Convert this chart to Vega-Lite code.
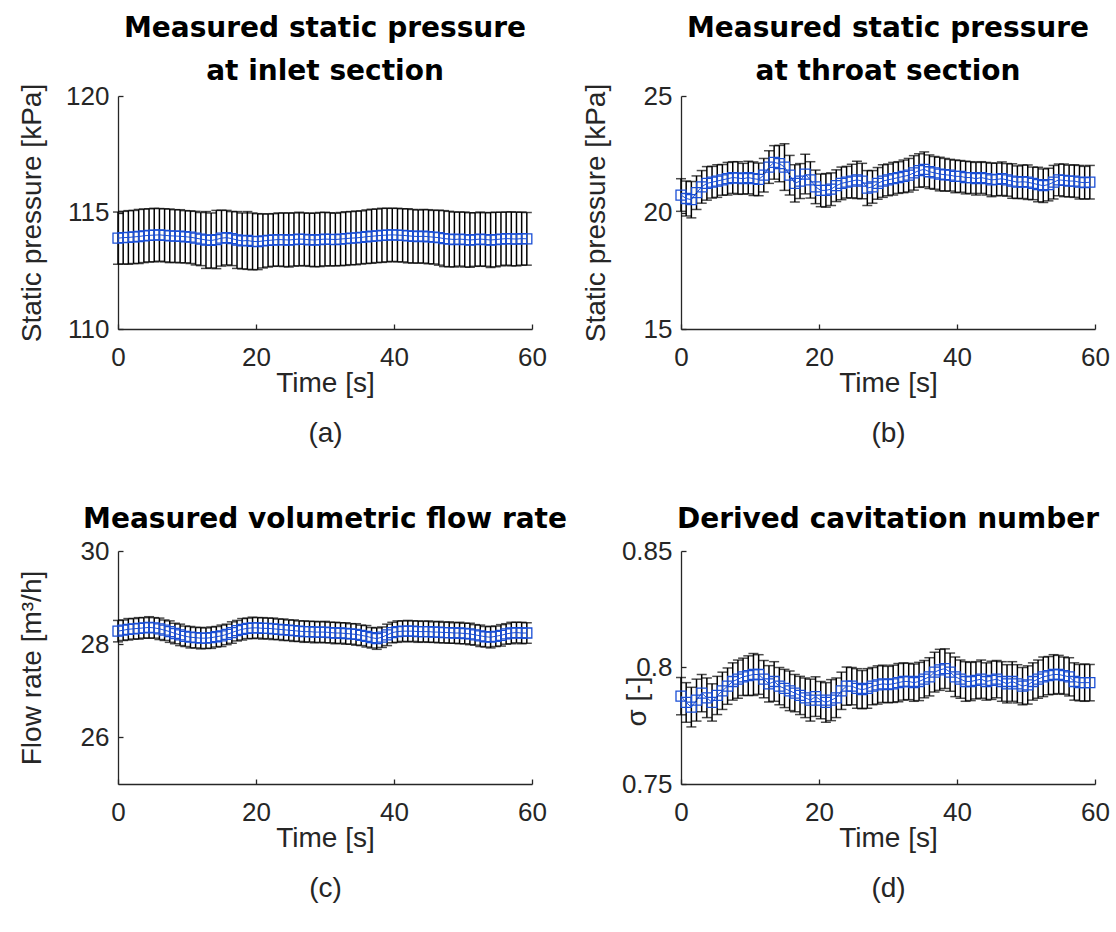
{
"$schema": "https://vega.github.io/schema/vega-lite/v6.json",
"padding": {"left": 18, "top": 15, "right": 5, "bottom": 5},
"config": {
  "font": "Liberation Sans",
  "view": {"stroke": null},
  "axis": {"grid": false, "domainColor": "#262626", "domainWidth": 1.3, "tickColor": "#262626", "tickWidth": 1.3, "tickSize": -5, "labelColor": "#262626", "labelFontSize": 26, "labelFont": "Liberation Sans", "titleFont": "Liberation Sans", "titleFontSize": 28, "titleFontWeight": "normal", "titleColor": "#262626", "labelFlush": false, "labelOverlap": false},
  "axisX": {"labelPadding": 20, "titlePadding": -1, "titleLineHeight": 50},
  "axisY": {"labelPadding": 14, "titlePadding": 19},
  "title": {"font": "DejaVu Sans", "fontSize": 28, "fontWeight": "bold", "color": "#000000", "lineHeight": 43, "offset": -3, "frame": "group", "anchor": "middle"}
},
"columns": 2,
"bounds": "flush",
"spacing": {"row": 222, "column": 149},
"datasets": {
"a": [
{"t":0,"v":113.90,"e":1.12},{"t":0.75,"v":113.92,"e":1.13},{"t":1.5,"v":113.93,"e":1.15},{"t":2.25,"v":113.95,"e":1.14},{"t":3,"v":113.97,"e":1.16},{"t":3.75,"v":114.00,"e":1.15},{"t":4.5,"v":114.02,"e":1.14},{"t":5.25,"v":114.03,"e":1.15},{"t":6,"v":114.04,"e":1.13},{"t":6.75,"v":114.02,"e":1.14},
{"t":7.5,"v":114.00,"e":1.15},{"t":8.25,"v":113.99,"e":1.13},{"t":9,"v":113.98,"e":1.14},{"t":9.75,"v":113.96,"e":1.12},{"t":10.5,"v":113.94,"e":1.13},{"t":11.25,"v":113.90,"e":1.15},{"t":12,"v":113.86,"e":1.14},{"t":12.75,"v":113.82,"e":1.22},{"t":13.5,"v":113.80,"e":1.18},{"t":14.25,"v":113.84,"e":1.25},
{"t":15,"v":113.90,"e":1.20},{"t":15.75,"v":113.92,"e":1.17},{"t":16.5,"v":113.88,"e":1.16},{"t":17.25,"v":113.82,"e":1.22},{"t":18,"v":113.78,"e":1.20},{"t":18.75,"v":113.80,"e":1.24},{"t":19.5,"v":113.76,"e":1.22},{"t":20.25,"v":113.75,"e":1.20},{"t":21,"v":113.78,"e":1.16},{"t":21.75,"v":113.80,"e":1.14},
{"t":22.5,"v":113.82,"e":1.13},{"t":23.25,"v":113.84,"e":1.14},{"t":24,"v":113.83,"e":1.15},{"t":24.75,"v":113.82,"e":1.16},{"t":25.5,"v":113.84,"e":1.14},{"t":26.25,"v":113.86,"e":1.15},{"t":27,"v":113.85,"e":1.13},{"t":27.75,"v":113.83,"e":1.14},{"t":28.5,"v":113.82,"e":1.15},{"t":29.25,"v":113.84,"e":1.16},
{"t":30,"v":113.86,"e":1.15},{"t":30.75,"v":113.85,"e":1.14},{"t":31.5,"v":113.84,"e":1.13},{"t":32.25,"v":113.86,"e":1.14},{"t":33,"v":113.88,"e":1.15},{"t":33.75,"v":113.90,"e":1.14},{"t":34.5,"v":113.91,"e":1.15},{"t":35.25,"v":113.93,"e":1.14},{"t":36,"v":113.96,"e":1.15},{"t":36.75,"v":113.98,"e":1.16},
{"t":37.5,"v":114.00,"e":1.15},{"t":38.25,"v":114.02,"e":1.16},{"t":39,"v":114.03,"e":1.15},{"t":39.75,"v":114.04,"e":1.14},{"t":40.5,"v":114.03,"e":1.15},{"t":41.25,"v":114.02,"e":1.14},{"t":42,"v":114.00,"e":1.16},{"t":42.75,"v":113.98,"e":1.15},{"t":43.5,"v":113.97,"e":1.14},{"t":44.25,"v":113.98,"e":1.15},
{"t":45,"v":113.96,"e":1.16},{"t":45.75,"v":113.94,"e":1.15},{"t":46.5,"v":113.92,"e":1.18},{"t":47.25,"v":113.88,"e":1.20},{"t":48,"v":113.86,"e":1.19},{"t":48.75,"v":113.84,"e":1.18},{"t":49.5,"v":113.86,"e":1.16},{"t":50.25,"v":113.84,"e":1.18},{"t":51,"v":113.82,"e":1.17},{"t":51.75,"v":113.84,"e":1.15},
{"t":52.5,"v":113.86,"e":1.16},{"t":53.25,"v":113.84,"e":1.15},{"t":54,"v":113.82,"e":1.18},{"t":54.75,"v":113.84,"e":1.17},{"t":55.5,"v":113.86,"e":1.15},{"t":56.25,"v":113.88,"e":1.14},{"t":57,"v":113.87,"e":1.16},{"t":57.75,"v":113.86,"e":1.15},{"t":58.5,"v":113.88,"e":1.14},{"t":59.25,"v":113.87,"e":1.13}
],
"b": [
{"t":0,"v":20.75,"e":0.70},{"t":0.75,"v":20.60,"e":0.75},{"t":1.5,"v":20.55,"e":0.78},{"t":2.25,"v":20.85,"e":0.72},{"t":3,"v":21.10,"e":0.70},{"t":3.75,"v":21.25,"e":0.72},{"t":4.5,"v":21.30,"e":0.68},{"t":5.25,"v":21.35,"e":0.70},{"t":6,"v":21.40,"e":0.66},{"t":6.75,"v":21.45,"e":0.70},
{"t":7.5,"v":21.50,"e":0.68},{"t":8.25,"v":21.48,"e":0.70},{"t":9,"v":21.45,"e":0.66},{"t":9.75,"v":21.50,"e":0.70},{"t":10.5,"v":21.45,"e":0.72},{"t":11.25,"v":21.42,"e":0.70},{"t":12,"v":21.60,"e":0.72},{"t":12.75,"v":21.95,"e":0.70},{"t":13.5,"v":22.15,"e":0.72},{"t":14.25,"v":22.10,"e":0.78},
{"t":15,"v":21.95,"e":1.00},{"t":15.75,"v":21.60,"e":0.85},{"t":16.5,"v":21.25,"e":0.80},{"t":17.25,"v":21.35,"e":0.75},{"t":18,"v":21.65,"e":0.85},{"t":18.75,"v":21.40,"e":0.78},{"t":19.5,"v":21.10,"e":0.72},{"t":20.25,"v":20.95,"e":0.70},{"t":21,"v":20.95,"e":0.72},{"t":21.75,"v":21.00,"e":0.70},
{"t":22.5,"v":21.15,"e":0.68},{"t":23.25,"v":21.25,"e":0.70},{"t":24,"v":21.30,"e":0.68},{"t":24.75,"v":21.35,"e":0.72},{"t":25.5,"v":21.40,"e":0.80},{"t":26.25,"v":21.35,"e":0.76},{"t":27,"v":21.05,"e":0.75},{"t":27.75,"v":21.10,"e":0.70},{"t":28.5,"v":21.25,"e":0.68},{"t":29.25,"v":21.35,"e":0.70},
{"t":30,"v":21.40,"e":0.68},{"t":30.75,"v":21.45,"e":0.70},{"t":31.5,"v":21.50,"e":0.68},{"t":32.25,"v":21.55,"e":0.70},{"t":33,"v":21.60,"e":0.72},{"t":33.75,"v":21.70,"e":0.74},{"t":34.5,"v":21.80,"e":0.72},{"t":35.25,"v":21.85,"e":0.75},{"t":36,"v":21.75,"e":0.72},{"t":36.75,"v":21.70,"e":0.70},
{"t":37.5,"v":21.65,"e":0.72},{"t":38.25,"v":21.62,"e":0.70},{"t":39,"v":21.60,"e":0.68},{"t":39.75,"v":21.55,"e":0.70},{"t":40.5,"v":21.55,"e":0.68},{"t":41.25,"v":21.50,"e":0.70},{"t":42,"v":21.50,"e":0.68},{"t":42.75,"v":21.45,"e":0.70},{"t":43.5,"v":21.50,"e":0.68},{"t":44.25,"v":21.45,"e":0.70},
{"t":45,"v":21.40,"e":0.72},{"t":45.75,"v":21.42,"e":0.70},{"t":46.5,"v":21.45,"e":0.72},{"t":47.25,"v":21.40,"e":0.70},{"t":48,"v":21.35,"e":0.74},{"t":48.75,"v":21.30,"e":0.70},{"t":49.5,"v":21.32,"e":0.72},{"t":50.25,"v":21.30,"e":0.74},{"t":51,"v":21.25,"e":0.70},{"t":51.75,"v":21.20,"e":0.74},
{"t":52.5,"v":21.15,"e":0.72},{"t":53.25,"v":21.20,"e":0.70},{"t":54,"v":21.30,"e":0.72},{"t":54.75,"v":21.40,"e":0.68},{"t":55.5,"v":21.38,"e":0.70},{"t":56.25,"v":21.35,"e":0.68},{"t":57,"v":21.35,"e":0.70},{"t":57.75,"v":21.30,"e":0.72},{"t":58.5,"v":21.28,"e":0.70},{"t":59.25,"v":21.30,"e":0.72}
],
"c": [
{"t":0,"v":28.28,"e":0.23},{"t":0.75,"v":28.30,"e":0.22},{"t":1.5,"v":28.32,"e":0.23},{"t":2.25,"v":28.33,"e":0.22},{"t":3,"v":28.34,"e":0.23},{"t":3.75,"v":28.35,"e":0.22},{"t":4.5,"v":28.36,"e":0.23},{"t":5.25,"v":28.35,"e":0.22},{"t":6,"v":28.33,"e":0.23},{"t":6.75,"v":28.30,"e":0.22},
{"t":7.5,"v":28.27,"e":0.23},{"t":8.25,"v":28.23,"e":0.22},{"t":9,"v":28.20,"e":0.23},{"t":9.75,"v":28.17,"e":0.22},{"t":10.5,"v":28.15,"e":0.23},{"t":11.25,"v":28.14,"e":0.22},{"t":12,"v":28.13,"e":0.23},{"t":12.75,"v":28.13,"e":0.22},{"t":13.5,"v":28.14,"e":0.23},{"t":14.25,"v":28.16,"e":0.22},
{"t":15,"v":28.18,"e":0.23},{"t":15.75,"v":28.21,"e":0.22},{"t":16.5,"v":28.25,"e":0.23},{"t":17.25,"v":28.29,"e":0.22},{"t":18,"v":28.32,"e":0.23},{"t":18.75,"v":28.34,"e":0.22},{"t":19.5,"v":28.35,"e":0.23},{"t":20.25,"v":28.35,"e":0.22},{"t":21,"v":28.34,"e":0.23},{"t":21.75,"v":28.34,"e":0.22},
{"t":22.5,"v":28.33,"e":0.23},{"t":23.25,"v":28.32,"e":0.22},{"t":24,"v":28.31,"e":0.23},{"t":24.75,"v":28.30,"e":0.22},{"t":25.5,"v":28.29,"e":0.23},{"t":26.25,"v":28.28,"e":0.22},{"t":27,"v":28.27,"e":0.23},{"t":27.75,"v":28.27,"e":0.22},{"t":28.5,"v":28.26,"e":0.23},{"t":29.25,"v":28.26,"e":0.22},
{"t":30,"v":28.26,"e":0.23},{"t":30.75,"v":28.25,"e":0.22},{"t":31.5,"v":28.24,"e":0.23},{"t":32.25,"v":28.24,"e":0.22},{"t":33,"v":28.23,"e":0.23},{"t":33.75,"v":28.22,"e":0.22},{"t":34.5,"v":28.21,"e":0.23},{"t":35.25,"v":28.19,"e":0.22},{"t":36,"v":28.17,"e":0.23},{"t":36.75,"v":28.14,"e":0.22},
{"t":37.5,"v":28.12,"e":0.23},{"t":38.25,"v":28.15,"e":0.22},{"t":39,"v":28.20,"e":0.23},{"t":39.75,"v":28.25,"e":0.22},{"t":40.5,"v":28.27,"e":0.23},{"t":41.25,"v":28.28,"e":0.22},{"t":42,"v":28.28,"e":0.23},{"t":42.75,"v":28.28,"e":0.22},{"t":43.5,"v":28.27,"e":0.23},{"t":44.25,"v":28.27,"e":0.22},
{"t":45,"v":28.27,"e":0.23},{"t":45.75,"v":28.26,"e":0.22},{"t":46.5,"v":28.26,"e":0.23},{"t":47.25,"v":28.25,"e":0.22},{"t":48,"v":28.25,"e":0.23},{"t":48.75,"v":28.24,"e":0.22},{"t":49.5,"v":28.24,"e":0.23},{"t":50.25,"v":28.23,"e":0.22},{"t":51,"v":28.22,"e":0.23},{"t":51.75,"v":28.20,"e":0.22},
{"t":52.5,"v":28.18,"e":0.23},{"t":53.25,"v":28.16,"e":0.22},{"t":54,"v":28.15,"e":0.23},{"t":54.75,"v":28.17,"e":0.22},{"t":55.5,"v":28.19,"e":0.23},{"t":56.25,"v":28.22,"e":0.22},{"t":57,"v":28.24,"e":0.23},{"t":57.75,"v":28.25,"e":0.22},{"t":58.5,"v":28.24,"e":0.23},{"t":59.25,"v":28.24,"e":0.22}
],
"d": [
{"t":0,"v":0.7877,"e":0.0080},{"t":0.75,"v":0.7850,"e":0.0085},{"t":1.5,"v":0.7830,"e":0.0085},{"t":2.25,"v":0.7860,"e":0.0090},{"t":3,"v":0.7890,"e":0.0080},{"t":3.75,"v":0.7870,"e":0.0085},{"t":4.5,"v":0.7850,"e":0.0080},{"t":5.25,"v":0.7880,"e":0.0082},{"t":6,"v":0.7900,"e":0.0080},{"t":6.75,"v":0.7920,"e":0.0078},
{"t":7.5,"v":0.7940,"e":0.0080},{"t":8.25,"v":0.7950,"e":0.0082},{"t":9,"v":0.7960,"e":0.0080},{"t":9.75,"v":0.7965,"e":0.0085},{"t":10.5,"v":0.7970,"e":0.0090},{"t":11.25,"v":0.7970,"e":0.0085},{"t":12,"v":0.7950,"e":0.0080},{"t":12.75,"v":0.7930,"e":0.0078},{"t":13.5,"v":0.7940,"e":0.0085},{"t":14.25,"v":0.7920,"e":0.0080},
{"t":15,"v":0.7910,"e":0.0082},{"t":15.75,"v":0.7900,"e":0.0085},{"t":16.5,"v":0.7890,"e":0.0080},{"t":17.25,"v":0.7880,"e":0.0082},{"t":18,"v":0.7870,"e":0.0085},{"t":18.75,"v":0.7860,"e":0.0090},{"t":19.5,"v":0.7875,"e":0.0085},{"t":20.25,"v":0.7860,"e":0.0080},{"t":21,"v":0.7850,"e":0.0085},{"t":21.75,"v":0.7860,"e":0.0088},
{"t":22.5,"v":0.7870,"e":0.0085},{"t":23.25,"v":0.7900,"e":0.0080},{"t":24,"v":0.7920,"e":0.0082},{"t":24.75,"v":0.7920,"e":0.0080},{"t":25.5,"v":0.7910,"e":0.0085},{"t":26.25,"v":0.7905,"e":0.0082},{"t":27,"v":0.7910,"e":0.0085},{"t":27.75,"v":0.7920,"e":0.0080},{"t":28.5,"v":0.7925,"e":0.0082},{"t":29.25,"v":0.7930,"e":0.0080},
{"t":30,"v":0.7927,"e":0.0078},{"t":30.75,"v":0.7930,"e":0.0080},{"t":31.5,"v":0.7935,"e":0.0082},{"t":32.25,"v":0.7940,"e":0.0080},{"t":33,"v":0.7940,"e":0.0078},{"t":33.75,"v":0.7935,"e":0.0080},{"t":34.5,"v":0.7940,"e":0.0082},{"t":35.25,"v":0.7950,"e":0.0080},{"t":36,"v":0.7960,"e":0.0082},{"t":36.75,"v":0.7980,"e":0.0085},
{"t":37.5,"v":0.7990,"e":0.0088},{"t":38.25,"v":0.7995,"e":0.0085},{"t":39,"v":0.7980,"e":0.0082},{"t":39.75,"v":0.7960,"e":0.0085},{"t":40.5,"v":0.7950,"e":0.0082},{"t":41.25,"v":0.7940,"e":0.0085},{"t":42,"v":0.7940,"e":0.0082},{"t":42.75,"v":0.7945,"e":0.0080},{"t":43.5,"v":0.7950,"e":0.0082},{"t":44.25,"v":0.7940,"e":0.0080},
{"t":45,"v":0.7945,"e":0.0082},{"t":45.75,"v":0.7950,"e":0.0080},{"t":46.5,"v":0.7940,"e":0.0085},{"t":47.25,"v":0.7930,"e":0.0082},{"t":48,"v":0.7940,"e":0.0085},{"t":48.75,"v":0.7930,"e":0.0082},{"t":49.5,"v":0.7920,"e":0.0080},{"t":50.25,"v":0.7925,"e":0.0082},{"t":51,"v":0.7940,"e":0.0080},{"t":51.75,"v":0.7950,"e":0.0082},
{"t":52.5,"v":0.7960,"e":0.0085},{"t":53.25,"v":0.7965,"e":0.0082},{"t":54,"v":0.7970,"e":0.0085},{"t":54.75,"v":0.7970,"e":0.0082},{"t":55.5,"v":0.7965,"e":0.0080},{"t":56.25,"v":0.7960,"e":0.0082},{"t":57,"v":0.7940,"e":0.0080},{"t":57.75,"v":0.7935,"e":0.0078},{"t":58.5,"v":0.7935,"e":0.0080},{"t":59.25,"v":0.7935,"e":0.0078}
]
},
"concat": [
{
 "width": 414, "height": 233,
 "title": {"text": ["Measured static pressure", "at inlet section"]},
 "data": {"name": "a"},
 "encoding": {
   "x": {"field": "t", "type": "quantitative", "scale": {"domain": [0, 60]}, "axis": {"values": [0, 20, 40, 60], "title": ["Time [s]", "(a)"]}},
   "y": {"field": "v", "type": "quantitative", "scale": {"domain": [110, 120]}, "axis": {"values": [110, 115, 120], "title": "Static pressure [kPa]", "titlePadding": 19}}
 },
 "layer": [
   {"mark": {"type": "errorbar", "color": "#000000", "thickness": 1.5, "ticks": {"size": 10, "thickness": 1.5}}, "encoding": {"yError": {"field": "e"}}},
   {"mark": {"type": "line", "color": "#1a4fd6", "strokeWidth": 1}},
   {"mark": {"type": "point", "shape": "square", "size": 100, "filled": false, "color": "#1a4fd6", "strokeWidth": 1.3, "opacity": 1}}
 ]
},
{
 "width": 414, "height": 233,
 "title": {"text": ["Measured static pressure", "at throat section"]},
 "data": {"name": "b"},
 "encoding": {
   "x": {"field": "t", "type": "quantitative", "scale": {"domain": [0, 60]}, "axis": {"values": [0, 20, 40, 60], "title": ["Time [s]", "(b)"]}},
   "y": {"field": "v", "type": "quantitative", "scale": {"domain": [15, 25]}, "axis": {"values": [15, 20, 25], "title": "Static pressure [kPa]", "titlePadding": 33}}
 },
 "layer": [
   {"mark": {"type": "errorbar", "color": "#000000", "thickness": 1.5, "ticks": {"size": 10, "thickness": 1.5}}, "encoding": {"yError": {"field": "e"}}},
   {"mark": {"type": "line", "color": "#1a4fd6", "strokeWidth": 1}},
   {"mark": {"type": "point", "shape": "square", "size": 100, "filled": false, "color": "#1a4fd6", "strokeWidth": 1.3, "opacity": 1}}
 ]
},
{
 "width": 414, "height": 233,
 "title": {"text": "Measured volumetric flow rate", "offset": 4},
 "data": {"name": "c"},
 "encoding": {
   "x": {"field": "t", "type": "quantitative", "scale": {"domain": [0, 60]}, "axis": {"values": [0, 20, 40, 60], "title": ["Time [s]", "(c)"]}},
   "y": {"field": "v", "type": "quantitative", "scale": {"domain": [25, 30]}, "axis": {"values": [26, 28, 30], "title": "Flow rate [m³/h]", "titlePadding": 34}}
 },
 "layer": [
   {"mark": {"type": "errorbar", "color": "#000000", "thickness": 1.5, "ticks": {"size": 10, "thickness": 1.5}}, "encoding": {"yError": {"field": "e"}}},
   {"mark": {"type": "line", "color": "#1a4fd6", "strokeWidth": 1}},
   {"mark": {"type": "point", "shape": "square", "size": 100, "filled": false, "color": "#1a4fd6", "strokeWidth": 1.3, "opacity": 1}}
 ]
},
{
 "width": 414, "height": 233,
 "title": {"text": "Derived cavitation number", "offset": 4},
 "data": {"name": "d"},
 "encoding": {
   "x": {"field": "t", "type": "quantitative", "scale": {"domain": [0, 60]}, "axis": {"values": [0, 20, 40, 60], "title": ["Time [s]", "(d)"]}},
   "y": {"field": "v", "type": "quantitative", "scale": {"domain": [0.75, 0.85]}, "axis": {"values": [0.75, 0.8, 0.85], "format": "~g", "title": "σ [-]", "titlePadding": -30, "titleY": 150}}
 },
 "layer": [
   {"mark": {"type": "errorbar", "color": "#000000", "thickness": 1.5, "ticks": {"size": 10, "thickness": 1.5}}, "encoding": {"yError": {"field": "e"}}},
   {"mark": {"type": "line", "color": "#1a4fd6", "strokeWidth": 1}},
   {"mark": {"type": "point", "shape": "square", "size": 100, "filled": false, "color": "#1a4fd6", "strokeWidth": 1.3, "opacity": 1}}
 ]
}
]
}
